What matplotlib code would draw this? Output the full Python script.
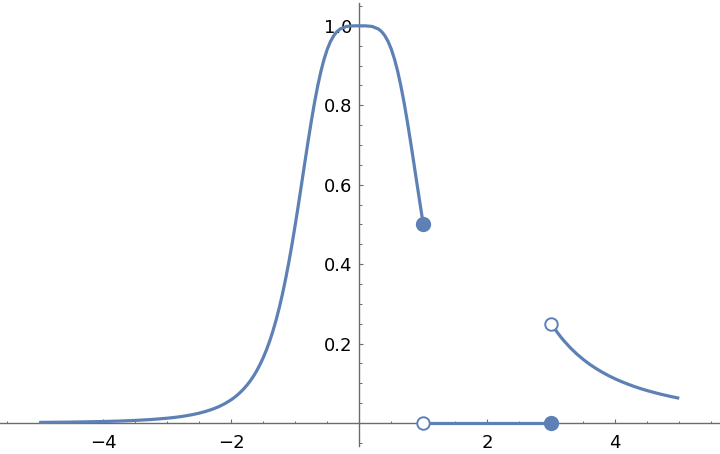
import matplotlib
matplotlib.use("Agg")
import matplotlib.pyplot as plt
from matplotlib.ticker import MultipleLocator, FixedLocator

# Segment 1: x <= 1
x_left = [-5.0, -4.75, -4.5, -4.25, -4.0, -3.75, -3.5, -3.25, -3.0, -2.9, -2.8, -2.7, -2.6,
          -2.5, -2.4, -2.3, -2.2, -2.1, -2.0, -1.95, -1.9, -1.85, -1.8, -1.75, -1.7, -1.65,
          -1.6, -1.55, -1.5, -1.45, -1.4, -1.35, -1.3, -1.25, -1.2, -1.15, -1.1, -1.05,
          -1.0, -0.95, -0.9, -0.85, -0.8, -0.75, -0.7, -0.65, -0.6, -0.55, -0.5, -0.45,
          -0.4, -0.35, -0.3, -0.2, -0.1, 0.0, 0.1, 0.2, 0.3, 0.35, 0.4, 0.45, 0.5, 0.55,
          0.6, 0.65, 0.7, 0.75, 0.8, 0.85, 0.9, 0.95, 1.0]
y_left = [0.0016, 0.0020, 0.0024, 0.0031, 0.0039, 0.0050, 0.0066, 0.0089, 0.0122, 0.0139,
          0.0160, 0.0185, 0.0214, 0.0250, 0.0293, 0.0345, 0.0409, 0.0489, 0.0588, 0.0647,
          0.0713, 0.0787, 0.0870, 0.0964, 0.1069, 0.1189, 0.1324, 0.1477, 0.1649, 0.1845,
          0.2065, 0.2314, 0.2593, 0.2906, 0.3254, 0.3638, 0.4058, 0.4514, 0.5000, 0.5511,
          0.6038, 0.6570, 0.7094, 0.7596, 0.8064, 0.8485, 0.8853, 0.9161, 0.9412, 0.9606,
          0.9750, 0.9852, 0.9920, 0.9984, 0.9999, 1.0000, 0.9999, 0.9984, 0.9920, 0.9852,
          0.9750, 0.9606, 0.9412, 0.9161, 0.8853, 0.8485, 0.8064, 0.7596, 0.7094, 0.6570,
          0.6038, 0.5511, 0.5000]

# Segment 2: 1 < x <= 3
x_mid = [1.0, 3.0]
y_mid = [0.0, 0.0]

# Segment 3: x > 3
x_right = [3.0, 3.05, 3.1, 3.15, 3.2, 3.3, 3.4, 3.5, 3.6, 3.7, 3.8, 3.9, 4.0, 4.1, 4.2,
           4.3, 4.4, 4.5, 4.6, 4.7, 4.8, 4.9, 5.0]
y_right = [0.25, 0.2380, 0.2268, 0.2163, 0.2066, 0.1890, 0.1736, 0.16, 0.1479, 0.1372,
           0.1276, 0.1189, 0.1111, 0.1041, 0.0977, 0.0918, 0.0865, 0.0816, 0.0772, 0.0730,
           0.0693, 0.0657, 0.0625]

# End points
filled_x = [1.0, 3.0]
filled_y = [0.5, 0.0]
open_x = [1.0, 3.0]
open_y = [0.0, 0.25]

x_ticks = [-4, -2, 2, 4]
x_tick_labels = ["\u22124", "\u22122", "2", "4"]
y_ticks = [0.2, 0.4, 0.6, 0.8, 1.0]
y_tick_labels = ["0.2", "0.4", "0.6", "0.8", "1.0"]

color = "#5E81B5"
axis_color = "#6b6b6b"

fig = plt.figure(figsize=(7.2, 4.54), dpi=100)
ax = fig.add_axes([0.0, 0.0183, 1.0, 0.9747])
ax.set_xlim(-5.614, 5.636)
ax.set_ylim(-0.057, 1.057)

for xs, ys in [(x_left, y_left), (x_mid, y_mid), (x_right, y_right)]:
    ax.plot(xs, ys, color=color, lw=2.3, solid_capstyle="butt", solid_joinstyle="round",
            zorder=3)

ax.plot(filled_x, filled_y, "o", color=color, ms=10, zorder=4)
ax.plot(open_x, open_y, "o", mfc="white", mec=color, mew=1.4, ms=9, zorder=4)

ax.spines["left"].set_position(("data", 0))
ax.spines["bottom"].set_position(("data", 0))
ax.spines["right"].set_visible(False)
ax.spines["top"].set_visible(False)
for s in ("left", "bottom"):
    ax.spines[s].set_color(axis_color)
    ax.spines[s].set_linewidth(1.0)
    ax.spines[s].set_zorder(1)

ax.xaxis.set_major_locator(FixedLocator(x_ticks))
ax.xaxis.set_minor_locator(MultipleLocator(0.5))
ax.yaxis.set_major_locator(FixedLocator(y_ticks))
ax.yaxis.set_minor_locator(MultipleLocator(0.05))
ax.set_xticklabels(x_tick_labels)
ax.set_yticklabels(y_tick_labels)

ax.tick_params(axis="x", which="major", direction="in", length=3.2, width=0.8,
               color=axis_color, labelsize=13, pad=8)
ax.tick_params(axis="x", which="minor", direction="in", length=1.8, width=0.7,
               color=axis_color)
ax.tick_params(axis="y", which="major", direction="in", length=3.2, width=0.8,
               color=axis_color, labelsize=13, pad=5)
ax.tick_params(axis="y", which="minor", direction="in", length=1.8, width=0.7,
               color=axis_color)

ax.patch.set_visible(False)
fig.savefig("out.png", dpi=100, facecolor="white")
